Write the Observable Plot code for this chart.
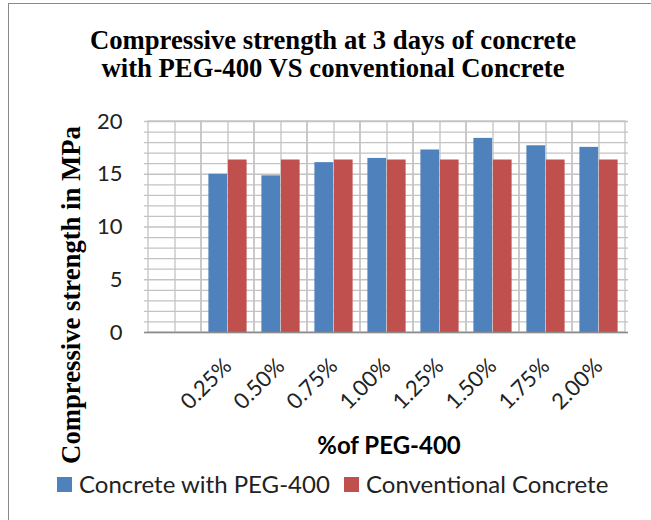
<!DOCTYPE html>
<html>
<head>
<meta charset="utf-8">
<script src="https://cdn.jsdelivr.net/npm/d3@7"></script>
<script src="https://cdn.jsdelivr.net/npm/@observablehq/plot@0.6"></script>
<style>
  body { margin: 0; background: #fff; }
  #wrap { position: relative; width: 651px; height: 520px; overflow: hidden; background: #fff; }
  #frame { position: absolute; left: 8px; top: 3px; width: 700px; height: 600px;
           border-left: 1.5px solid #8a8a8a; border-top: 1.5px solid #8a8a8a; }
  #title { position: absolute; left: 0; top: 26px; width: 666px; text-align: center;
           font-family: "Liberation Serif", serif; font-weight: bold; font-size: 26.7px;
           line-height: 28px; color: #000; }
  #ylabel { position: absolute; left: 71px; top: 295px; transform: translate(-50%, -50%) rotate(-90deg);
            white-space: nowrap; font-family: "Liberation Serif", serif; font-weight: bold;
            font-size: 26.7px; line-height: 1; color: #000; }
  #chart { position: absolute; left: 0; top: 100px; }
  #xlabel { position: absolute; left: 389px; top: 433px; transform: translateX(-50%);
            white-space: nowrap; font-family: Lato, sans-serif; font-weight: bold; font-size: 24px;
            line-height: 24px; color: #000; }
  #legend { position: absolute; left: 57px; top: 472px; font-family: Lato, sans-serif; font-size: 24px;
            line-height: 24px; color: #222; white-space: nowrap; }
  .item { position: absolute; top: 0; }
  .sw { position: absolute; top: 5px; width: 15px; height: 15px; }
  .lt { position: absolute; top: 0; left: 22px; }
</style>
</head>
<body>
<div id="wrap">
  <div id="frame"></div>
  <div id="title"></div>
  <div id="chart"></div>
  <div id="ylabel"></div>
  <div id="xlabel"></div>
  <div id="legend"></div>
</div>
<script>
const titleLines = ["Compressive strength at 3 days of concrete", "with PEG-400 VS conventional Concrete"];
const yAxisTitle = "Compressive strength in MPa";
const xAxisTitle = "%of PEG-400";
const categories = ["", "0.25%", "0.50%", "0.75%", "1.00%", "1.25%", "1.50%", "1.75%", "2.00%"];
const pegValues = [null, 15.0, 14.85, 16.1, 16.5, 17.3, 18.4, 17.7, 17.55];
const conventionalValues = [null, 16.35, 16.35, 16.35, 16.35, 16.35, 16.35, 16.35, 16.35];
const seriesNames = ["Concrete with PEG-400", "Conventional Concrete"];
const seriesColors = ["#4f81bd", "#c0504d"];
const yTicks = [0, 5, 10, 15, 20];
const yGridLines = d3.range(0, 21, 1);

document.getElementById("title").innerHTML = titleLines.join("<br>");
document.getElementById("ylabel").textContent = yAxisTitle;
document.getElementById("xlabel").textContent = xAxisTitle;

const legend = document.getElementById("legend");
const legendOffsets = [0, 287];
seriesNames.forEach((name, i) => {
  const item = document.createElement("div");
  item.className = "item";
  item.style.left = legendOffsets[i] + "px";
  item.innerHTML = `<div class="sw" style="background:${seriesColors[i]}"></div><div class="lt">${name}</div>`;
  legend.appendChild(item);
});

const pegRows = categories.map((c, i) => ({cat: c, value: pegValues[i]})).filter(d => d.value != null);
const convRows = categories.map((c, i) => ({cat: c, value: conventionalValues[i]})).filter(d => d.value != null);

const W = 651, H = 360, mL = 144, mR = 23, mT = 21, mB = 128;
const band = (W - mL - mR) / categories.length;
const barW = 19.5;
const outer = band / 2 - barW;
const grid = "#c3c3c3";

const chart = Plot.plot({
  width: W, height: H,
  marginLeft: mL, marginRight: mR, marginTop: mT, marginBottom: mB,
  style: {fontFamily: "Lato, sans-serif", color: "#222", background: "transparent"},
  x: {domain: categories, padding: 0, label: null},
  y: {domain: [0, 20], label: null},
  marks: [
    Plot.gridY(yGridLines, {stroke: grid, strokeOpacity: 1, strokeWidth: 1.3}),
    Plot.cell(categories, {x: d => d, fill: "none", stroke: grid, strokeWidth: 1.3}),
    Plot.ruleX(categories, {x: d => d, stroke: grid, strokeWidth: 1.3}),
    Plot.barY(pegRows, {x: "cat", y: "value", fill: seriesColors[0], insetLeft: outer, insetRight: band / 2}),
    Plot.barY(convRows, {x: "cat", y: "value", fill: seriesColors[1], insetLeft: band / 2, insetRight: outer}),
    Plot.ruleY([0], {stroke: "#8c8c8c", strokeWidth: 1.5}),
    Plot.axisY({ticks: yTicks, tickSize: 0, tickPadding: 22, fontSize: 22, label: null}),
    Plot.axisX({tickSize: 0, tickPadding: 30, tickRotate: -45, fontSize: 22, label: null})
  ]
});
document.getElementById("chart").appendChild(chart);
</script>
</body>
</html>
